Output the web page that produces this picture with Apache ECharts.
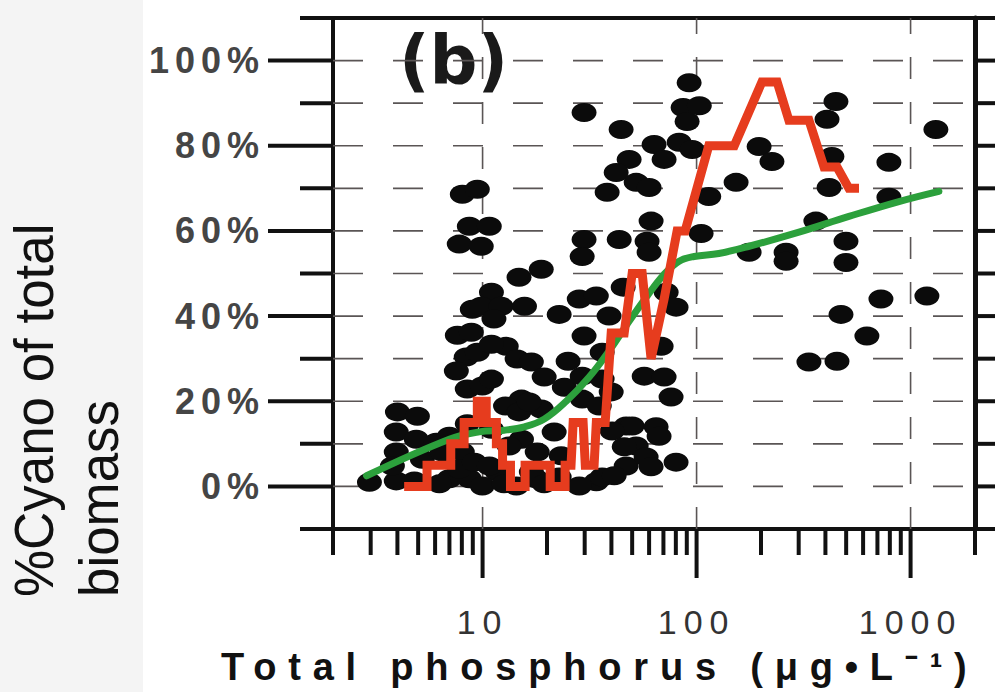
<!DOCTYPE html>
<html>
<head>
<meta charset="utf-8">
<script src="https://cdn.jsdelivr.net/npm/echarts@6/dist/echarts.min.js"></script>
<style>
  html, body { margin: 0; padding: 0; background: #ffffff; }
  #chart { width: 995px; height: 692px; }
  /* spaced-out lettering used for the axis labels and the axis title */
  #chart text[style*="34px"] { letter-spacing: 7px; }
  #chart text[style*="36px"] { letter-spacing: 6px; }
  #chart text[style*="38px"] { letter-spacing: 11.8px; }
</style>
</head>
<body>
<div id="chart"></div>
<script>
// ---- axis extents and tick values ----
const X_MIN = 2, X_MAX = 2000;
const Y_MIN = -10, Y_MAX = 110;
const yTickValues = [-10, 0, 10, 20, 30, 40, 50, 60, 70, 80, 90, 100, 110];
const yLabelValues = [0, 20, 40, 60, 80, 100];
const yGridValues = [0, 10, 20, 30, 40, 50, 60, 70, 80, 90, 100];
const xTickValues = [2, 3, 4, 5, 6, 7, 8, 9, 10, 20, 30, 40, 50, 60, 70, 80, 90,
                     100, 200, 300, 400, 500, 600, 700, 800, 900, 1000, 2000];
const xLabelValues = [10, 100, 1000];

// ---- individual lakes: total phosphorus (µg/L) and % cyanobacteria ----
const dotTP = [
  2.96, 3.95, 4.0, 4.96, 3.95, 3.95, 3.79, 4.9, 6.08, 6.99, 5.23, 6.48, 8.04, 6.99, 8.67, 4.8, 6.28,
  7.78, 9.15, 8.95, 7.62, 8.39, 7.54, 8.48, 9.97, 8.04, 9.45, 8.67, 10.75, 7.78, 9.86, 11.0, 8.48,
  14.8, 18.8, 11.0, 9.86, 12.2, 15.7, 11.3, 22.8, 8.86, 12.9, 9.45, 11.0, 14.5, 16.9, 25.1, 11.0,
  19.4, 15.2, 12.8, 18.8, 24.1, 15.2, 21.6, 18.0, 11.7, 16.9, 23.3, 14.8, 16.5, 13.3, 14.4, 17.8,
  28.3, 34.0, 39.0, 29.8, 36.2, 29.2, 36.2, 29.2, 35.1, 46.9, 52.2, 46.9, 34.0, 28.3, 10.75, 9.97,
  19.4, 22.8, 12.6, 36.2,
  29.8, 44.4, 63.3, 82.9, 95.3, 70.5, 48.4, 42.1, 52.2, 60.0, 38.2, 61.3, 29.8, 43.5, 58.7, 60.0,
  29.2, 45.4, 105, 92.3, 86.5, 90.3, 103, 72.1, 80.2, 68.3, 56.9, 70.5, 76.0, 39.9, 50.0, 64.7,
  66.8, 40.3, 45.9, 58.1, 61.3, 80.2, 41.2, 114, 153, 196, 225,
  448, 407, 1313, 429, 792, 416, 792, 361, 499, 176, 262, 262, 499, 727, 1192, 473, 625, 335, 453
];
const dotCyano = [
  1, 1.3, 17.5, 16.5, 12.8, 8.1, 4.8, 11.1, 10.4, 11.8, 6.4, 8.1, 8.1, 1.8, 1.8, 1.3, 0.6,
  4.1, 5.7, 41.6, 35.5, 30.4, 27.1, 22.9, 23.6, 68.6, 69.8, 61.1, 61.1, 56.9, 56.4, 13.4, 14.7,
  49.1, 51.0, 45.6, 42.3, 42.3, 42.3, 39.3, 40.4, 36.2, 32.9, 31.5, 33.4, 29.9, 29.2, 29.4, 25.2,
  25.7, 20.5, 18.9, 18.2, 23.3, 11.1, 12.8, 8.1, 3.4, 3.4, 7.2, 17.5, 19.8, 9.5, 0.1, 1.8,
  44.0, 44.7, 40.0, 35.3, 31.5, 25.9, 25.2, 20.5, 18.9, 14.2, 9.5, 4.8, 1.1, 0.1, 4.8, 0.1,
  0.6, 2.2, 0.6, 2.2,
  87.8, 83.8, 80.3, 80.8, 79.1, 76.8, 76.8, 73.7, 71.4, 70.2, 69.1, 62.3, 58.0, 58.0, 57.6, 55.0,
  54.0, 46.8, 59.4, 94.8, 89.0, 85.7, 89.4, 45.6, 42.1, 32.9, 25.9, 25.7, 21.0, 22.2, 14.2, 14.0,
  11.8, 13.0, 9.3, 6.9, 4.6, 5.7, 2.5, 68.1, 71.4, 79.8, 76.3,
  90.4, 86.2, 83.8, 77.5, 76.1, 70.2, 67.9, 62.3, 57.6, 55.0, 55.0, 52.9, 52.6, 44.0, 44.7, 40.4,
  35.3, 29.2, 29.4
];

// ---- running median (red) ----
const redTP = [4.3, 5.5, 5.5, 7.1, 7.1, 8.2, 8.2, 9.45, 9.45, 10.4, 10.4, 11.6, 11.6, 12.4, 12.4,
               13.5, 13.5, 15.8, 15.8, 20.7, 20.7, 24.3, 24.3, 25.9, 26.5, 29.5, 30.2, 33.2, 34,
               37.4, 39.9, 45.9, 50, 55.7, 61.3, 70.5, 81.1, 88.4, 114, 150, 202, 238, 270, 335,
               394, 453, 515, 574];
const redPct = [0, 0, 5, 5, 10, 10, 15, 15, 20, 20, 15, 15, 10, 10, 5,
                5, 0, 0, 5, 5, 0, 0, 5, 5, 15, 15, 5, 5, 15,
                15, 36, 36, 50, 50, 30, 44, 60, 60, 80, 80, 95, 95, 86, 86,
                75, 75, 70, 70];

// ---- fitted trend (green) ----
const greenTP = [2.87, 6.99, 9.65, 12.6, 15.7, 19.4, 24.6, 31.5, 39.0, 48.4, 58.7, 70.5, 82.9,
                 97.4, 127, 176, 301, 515, 882, 1356];
const greenPct = [2.5, 11.1, 12.8, 13.2, 14.0, 15.8, 20.0, 25.7, 31.8, 38.8, 44.7, 49.8, 52.9,
                  54.0, 54.7, 56.4, 59.7, 63.4, 66.9, 69.3];

const INK = '#111111';
const GRID_INK = '#5a5555';
const LABEL_FONT = 'Liberation Sans';

const zip = (a, b) => a.map((v, i) => [v, b[i]]);

function yTickItem(params, api) {
  const v = api.value(1);
  const l = api.coord([X_MIN, v]);
  const r = api.coord([X_MAX, v]);
  const len = yLabelValues.indexOf(v) >= 0 ? 65 : 33;
  return {
    type: 'group',
    children: [
      { type: 'line', shape: { x1: l[0] - len, y1: l[1], x2: l[0], y2: l[1] },
        style: { stroke: INK, lineWidth: 4 } },
      { type: 'line', shape: { x1: r[0], y1: r[1], x2: r[0] + 30, y2: r[1] },
        style: { stroke: INK, lineWidth: 4 } }
    ]
  };
}

function xTickItem(params, api) {
  const v = api.value(0);
  const p = api.coord([v, Y_MIN]);
  const len = xLabelValues.indexOf(v) >= 0 ? 49 : 26;
  return {
    type: 'line',
    shape: { x1: p[0], y1: p[1], x2: p[0], y2: p[1] + len },
    style: { stroke: INK, lineWidth: 4 }
  };
}

function yGridItem(params, api) {
  const v = api.value(1);
  const a = api.coord([X_MIN, v]);
  const b = api.coord([X_MAX, v]);
  return {
    type: 'line',
    shape: { x1: a[0], y1: a[1], x2: b[0], y2: b[1] },
    style: { stroke: GRID_INK, lineWidth: 1.6, lineDash: [30, 30] }
  };
}

function xGridItem(params, api) {
  const v = api.value(0);
  const a = api.coord([v, Y_MIN]);
  const b = api.coord([v, Y_MAX]);
  return {
    type: 'line',
    shape: { x1: a[0], y1: a[1], x2: b[0], y2: b[1] },
    style: { stroke: GRID_INK, lineWidth: 1.6, lineDash: [22, 23] }
  };
}

const chart = echarts.init(document.getElementById('chart'), null, {
  renderer: 'svg', width: 995, height: 692
});

chart.setOption({
  animation: false,
  backgroundColor: '#ffffff',
  grid: {
    left: 333, top: 18, width: 642, height: 511,
    show: true, borderColor: INK, borderWidth: 4, backgroundColor: 'transparent'
  },
  xAxis: {
    type: 'log', logBase: 10, min: X_MIN, max: X_MAX,
    axisLine: { show: false }, axisTick: { show: false }, splitLine: { show: false },
    axisLabel: {
      margin: 76, fontSize: 34, fontFamily: LABEL_FONT, color: '#333333',
      formatter: v => (xLabelValues.indexOf(Math.round(v)) >= 0 ? String(Math.round(v)) : '')
    }
  },
  yAxis: [
    {
      type: 'value', min: Y_MIN, max: Y_MAX, interval: 10, position: 'left',
      axisLine: { show: false }, axisTick: { show: false }, splitLine: { show: false },
      axisLabel: {
        margin: 68, fontSize: 36, fontWeight: 'bold', fontFamily: LABEL_FONT, color: '#454545',
        formatter: v => (yLabelValues.indexOf(Math.round(v)) >= 0 ? Math.round(v) + '%' : '')
      }
    },
    {
      type: 'value', min: Y_MIN, max: Y_MAX, interval: 10, position: 'right',
      axisLine: { show: true, lineStyle: { color: INK, width: 5 } },
      axisTick: { show: false }, axisLabel: { show: false }, splitLine: { show: false }
    }
  ],
  graphic: [
    { type: 'rect', left: 0, top: 0, shape: { width: 143, height: 692 },
      style: { fill: '#f4f4f4' }, silent: true },
    { type: 'text', x: 66, y: 597, rotation: Math.PI / 2, scaleX: 0.945,
      style: {
        text: '%Cyano of total\nbiomass', fontSize: 56, fontFamily: LABEL_FONT,
        fill: '#111111', align: 'left', verticalAlign: 'middle', lineHeight: 65
      } },
    { type: 'text', x: 221, y: 667,
      style: {
        text: 'Total phosphorus (μg•L⁻¹)',
        fontSize: 38, fontWeight: 'bold', fontFamily: LABEL_FONT, fill: '#111111',
        align: 'left', verticalAlign: 'middle'
      } },
    { type: 'text', x: 399, y: 61,
      style: {
        text: '(b)', fontSize: 67, fontWeight: 'bold', fontFamily: 'DejaVu Sans',
        fill: '#1a1a1a', align: 'left', verticalAlign: 'middle'
      } }
  ],
  series: [
    { name: 'yGrid', type: 'custom', renderItem: yGridItem, silent: true, z: 1,
      data: yGridValues.map(v => [X_MIN, v]) },
    { name: 'xGrid', type: 'custom', renderItem: xGridItem, silent: true, z: 1,
      data: xLabelValues.map(v => [v, Y_MIN]) },
    { name: 'Lakes', type: 'scatter', z: 2,
      symbol: 'circle', symbolSize: [25, 19],
      itemStyle: { color: '#0b0b0b', opacity: 1 },
      data: zip(dotTP, dotCyano) },
    { name: 'Trend', type: 'line', z: 3, smooth: 0.4, showSymbol: false, symbol: 'none',
      lineStyle: { color: '#2ca03c', width: 7, cap: 'round' },
      data: zip(greenTP, greenPct) },
    { name: 'Median', type: 'line', z: 4, showSymbol: false, symbol: 'none',
      lineStyle: { color: '#e63c1e', width: 9, join: 'miter', cap: 'butt' },
      data: zip(redTP, redPct) },
    { name: 'yTicks', type: 'custom', renderItem: yTickItem, silent: true, z: 5,
      data: yTickValues.map(v => [X_MIN, v]) },
    { name: 'xTicks', type: 'custom', renderItem: xTickItem, silent: true, z: 5,
      data: xTickValues.map(v => [v, Y_MIN]) }
  ]
});

// fallback for the letter spacing in case the inline font shorthand differs
const SPACING = { 34: 7, 36: 6, 38: 11.8 };
function applySpacing() {
  document.querySelectorAll('#chart text').forEach(t => {
    const fs = Math.round(parseFloat(getComputedStyle(t).fontSize));
    if (SPACING[fs] != null) t.style.letterSpacing = SPACING[fs] + 'px';
  });
}
chart.on('finished', applySpacing);
applySpacing();
</script>
</body>
</html>
